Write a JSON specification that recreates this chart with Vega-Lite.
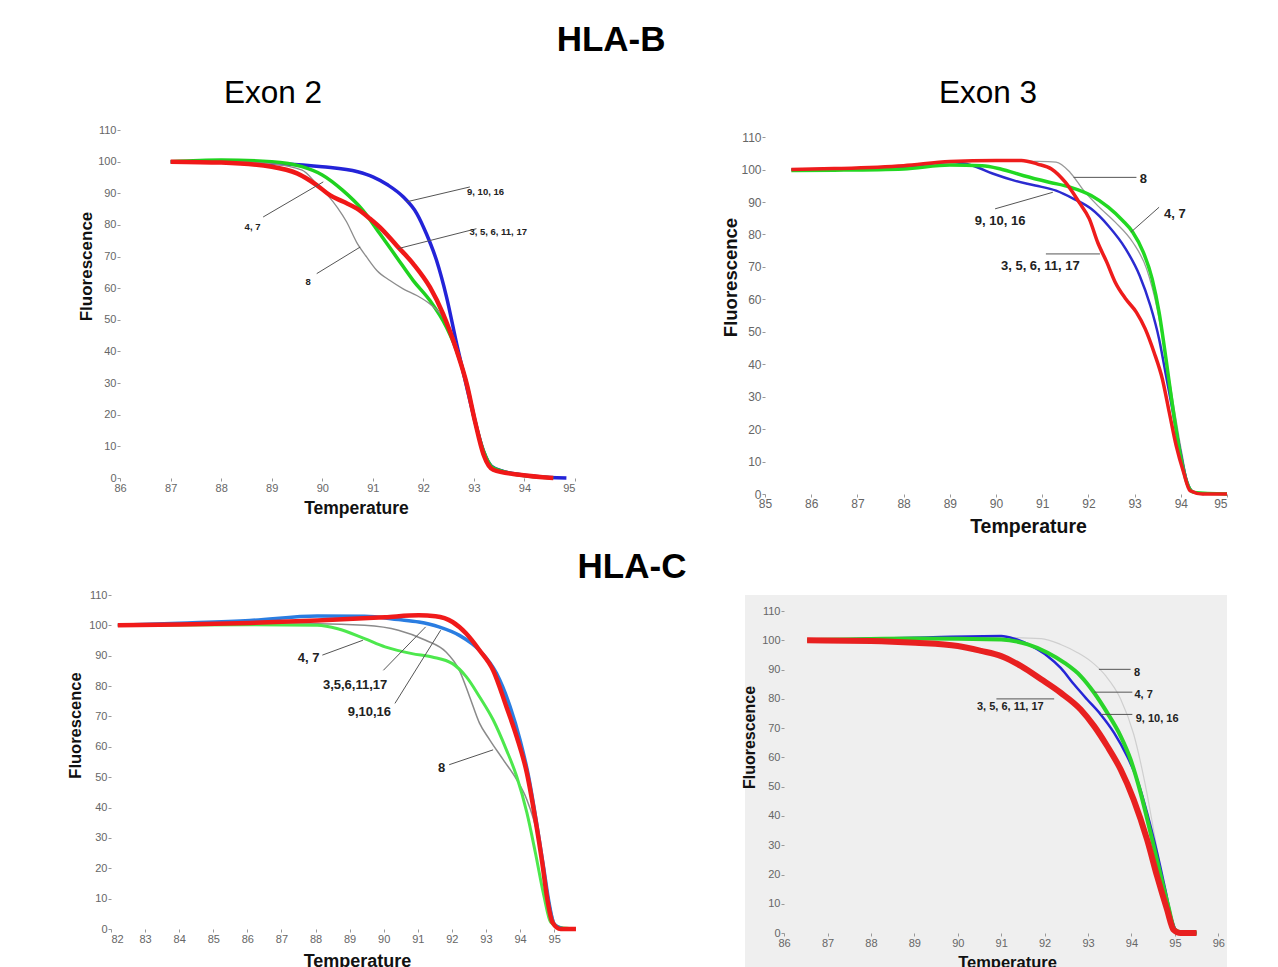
{
  "$schema": "https://vega.github.io/schema/vega-lite/v6.json",
  "background": "white",
  "padding": {"left": 67, "top": 22, "right": 0, "bottom": 0},
  "config": {
    "font": "Liberation Sans",
    "view": {"stroke": null},
    "axis": {
      "domain": false,
      "grid": false,
      "labelColor": "#666666",
      "labelFontSize": 11,
      "labelPadding": 1,
      "tickColor": "#999999",
      "tickSize": 3,
      "titleFontWeight": "bold",
      "titleColor": "#111111"
    },
    "title": {"color": "#000000", "font": "Liberation Sans"}
  },
  "title": {"text": "HLA-B", "fontSize": 35, "fontWeight": "bold", "anchor": "start", "frame": "bounds", "dx": 489, "offset": 20},
  "datasets": {
    "curves": [
      {"panel": "B2", "group": "9, 10, 16", "t": 87, "f": 100},
      {"panel": "B2", "group": "9, 10, 16", "t": 88, "f": 100},
      {"panel": "B2", "group": "9, 10, 16", "t": 89, "f": 99.5},
      {"panel": "B2", "group": "9, 10, 16", "t": 90, "f": 98.4},
      {"panel": "B2", "group": "9, 10, 16", "t": 90.7, "f": 96.8},
      {"panel": "B2", "group": "9, 10, 16", "t": 91, "f": 95.2},
      {"panel": "B2", "group": "9, 10, 16", "t": 91.3, "f": 92.6},
      {"panel": "B2", "group": "9, 10, 16", "t": 91.6, "f": 88.9},
      {"panel": "B2", "group": "9, 10, 16", "t": 91.87, "f": 83.6},
      {"panel": "B2", "group": "9, 10, 16", "t": 92.06, "f": 77.2},
      {"panel": "B2", "group": "9, 10, 16", "t": 92.26, "f": 68.8},
      {"panel": "B2", "group": "9, 10, 16", "t": 92.46, "f": 57.1},
      {"panel": "B2", "group": "9, 10, 16", "t": 92.66, "f": 42.3},
      {"panel": "B2", "group": "9, 10, 16", "t": 92.86, "f": 28.6},
      {"panel": "B2", "group": "9, 10, 16", "t": 93.02, "f": 18},
      {"panel": "B2", "group": "9, 10, 16", "t": 93.19, "f": 8.5},
      {"panel": "B2", "group": "9, 10, 16", "t": 93.35, "f": 3.7},
      {"panel": "B2", "group": "9, 10, 16", "t": 93.58, "f": 2.1},
      {"panel": "B2", "group": "9, 10, 16", "t": 94.24, "f": 0.5},
      {"panel": "B2", "group": "9, 10, 16", "t": 94.83, "f": 0},

      {"panel": "B2", "group": "4, 7", "t": 87, "f": 100},
      {"panel": "B2", "group": "4, 7", "t": 88, "f": 100.5},
      {"panel": "B2", "group": "4, 7", "t": 89, "f": 100},
      {"panel": "B2", "group": "4, 7", "t": 89.6, "f": 98.4},
      {"panel": "B2", "group": "4, 7", "t": 90, "f": 95.8},
      {"panel": "B2", "group": "4, 7", "t": 90.4, "f": 91},
      {"panel": "B2", "group": "4, 7", "t": 90.8, "f": 84.7},
      {"panel": "B2", "group": "4, 7", "t": 91.14, "f": 77.2},
      {"panel": "B2", "group": "4, 7", "t": 91.47, "f": 69.8},
      {"panel": "B2", "group": "4, 7", "t": 91.8, "f": 62.4},
      {"panel": "B2", "group": "4, 7", "t": 92.13, "f": 56.1},
      {"panel": "B2", "group": "4, 7", "t": 92.46, "f": 47.6},
      {"panel": "B2", "group": "4, 7", "t": 92.66, "f": 40.2},
      {"panel": "B2", "group": "4, 7", "t": 92.86, "f": 29.6},
      {"panel": "B2", "group": "4, 7", "t": 93.02, "f": 18},
      {"panel": "B2", "group": "4, 7", "t": 93.19, "f": 8.5},
      {"panel": "B2", "group": "4, 7", "t": 93.38, "f": 3.2},
      {"panel": "B2", "group": "4, 7", "t": 93.9, "f": 1},
      {"panel": "B2", "group": "4, 7", "t": 94.57, "f": 0},

      {"panel": "B2", "group": "3, 5, 6, 11, 17", "t": 87, "f": 100},
      {"panel": "B2", "group": "3, 5, 6, 11, 17", "t": 88, "f": 99.7},
      {"panel": "B2", "group": "3, 5, 6, 11, 17", "t": 89, "f": 98.4},
      {"panel": "B2", "group": "3, 5, 6, 11, 17", "t": 89.5, "f": 96.3},
      {"panel": "B2", "group": "3, 5, 6, 11, 17", "t": 89.89, "f": 92.6},
      {"panel": "B2", "group": "3, 5, 6, 11, 17", "t": 90.15, "f": 89.4},
      {"panel": "B2", "group": "3, 5, 6, 11, 17", "t": 90.42, "f": 87.3},
      {"panel": "B2", "group": "3, 5, 6, 11, 17", "t": 90.68, "f": 85.2},
      {"panel": "B2", "group": "3, 5, 6, 11, 17", "t": 90.94, "f": 82},
      {"panel": "B2", "group": "3, 5, 6, 11, 17", "t": 91.2, "f": 78.3},
      {"panel": "B2", "group": "3, 5, 6, 11, 17", "t": 91.47, "f": 73.5},
      {"panel": "B2", "group": "3, 5, 6, 11, 17", "t": 91.8, "f": 67.7},
      {"panel": "B2", "group": "3, 5, 6, 11, 17", "t": 92.13, "f": 60.3},
      {"panel": "B2", "group": "3, 5, 6, 11, 17", "t": 92.39, "f": 51.9},
      {"panel": "B2", "group": "3, 5, 6, 11, 17", "t": 92.66, "f": 40.2},
      {"panel": "B2", "group": "3, 5, 6, 11, 17", "t": 92.86, "f": 29.6},
      {"panel": "B2", "group": "3, 5, 6, 11, 17", "t": 93.02, "f": 18},
      {"panel": "B2", "group": "3, 5, 6, 11, 17", "t": 93.19, "f": 7.4},
      {"panel": "B2", "group": "3, 5, 6, 11, 17", "t": 93.38, "f": 2.6},
      {"panel": "B2", "group": "3, 5, 6, 11, 17", "t": 93.9, "f": 1},
      {"panel": "B2", "group": "3, 5, 6, 11, 17", "t": 94.57, "f": 0},

      {"panel": "B2", "group": "8", "t": 87, "f": 100},
      {"panel": "B2", "group": "8", "t": 88, "f": 100},
      {"panel": "B2", "group": "8", "t": 89, "f": 99.3},
      {"panel": "B2", "group": "8", "t": 89.6, "f": 97.3},
      {"panel": "B2", "group": "8", "t": 89.89, "f": 93},
      {"panel": "B2", "group": "8", "t": 90.1, "f": 89.5},
      {"panel": "B2", "group": "8", "t": 90.3, "f": 85.5},
      {"panel": "B2", "group": "8", "t": 90.48, "f": 81},
      {"panel": "B2", "group": "8", "t": 90.68, "f": 74.5},
      {"panel": "B2", "group": "8", "t": 90.88, "f": 69.8},
      {"panel": "B2", "group": "8", "t": 91.08, "f": 65.6},
      {"panel": "B2", "group": "8", "t": 91.34, "f": 62.4},
      {"panel": "B2", "group": "8", "t": 91.6, "f": 59.8},
      {"panel": "B2", "group": "8", "t": 91.87, "f": 57.7},
      {"panel": "B2", "group": "8", "t": 92.13, "f": 55},
      {"panel": "B2", "group": "8", "t": 92.39, "f": 50.8},
      {"panel": "B2", "group": "8", "t": 92.6, "f": 44.4},
      {"panel": "B2", "group": "8", "t": 92.8, "f": 33.9},
      {"panel": "B2", "group": "8", "t": 93, "f": 21.2},
      {"panel": "B2", "group": "8", "t": 93.19, "f": 8.5},
      {"panel": "B2", "group": "8", "t": 93.45, "f": 2.1},
      {"panel": "B2", "group": "8", "t": 94.24, "f": 0},

      {"panel": "B3", "group": "3, 5, 6, 11, 17", "t": 85.57, "f": 100},
      {"panel": "B3", "group": "3, 5, 6, 11, 17", "t": 86.5, "f": 100.3},
      {"panel": "B3", "group": "3, 5, 6, 11, 17", "t": 88, "f": 101.2},
      {"panel": "B3", "group": "3, 5, 6, 11, 17", "t": 89, "f": 102.5},
      {"panel": "B3", "group": "3, 5, 6, 11, 17", "t": 90, "f": 102.8},
      {"panel": "B3", "group": "3, 5, 6, 11, 17", "t": 90.55, "f": 102.8},
      {"panel": "B3", "group": "3, 5, 6, 11, 17", "t": 90.9, "f": 101.7},
      {"panel": "B3", "group": "3, 5, 6, 11, 17", "t": 91.2, "f": 100.2},
      {"panel": "B3", "group": "3, 5, 6, 11, 17", "t": 91.5, "f": 96.1},
      {"panel": "B3", "group": "3, 5, 6, 11, 17", "t": 91.8, "f": 89.9},
      {"panel": "B3", "group": "3, 5, 6, 11, 17", "t": 92.02, "f": 84.8},
      {"panel": "B3", "group": "3, 5, 6, 11, 17", "t": 92.2, "f": 77.6},
      {"panel": "B3", "group": "3, 5, 6, 11, 17", "t": 92.4, "f": 71.4},
      {"panel": "B3", "group": "3, 5, 6, 11, 17", "t": 92.58, "f": 65.3},
      {"panel": "B3", "group": "3, 5, 6, 11, 17", "t": 92.81, "f": 60.1},
      {"panel": "B3", "group": "3, 5, 6, 11, 17", "t": 93.04, "f": 56},
      {"panel": "B3", "group": "3, 5, 6, 11, 17", "t": 93.23, "f": 50.9},
      {"panel": "B3", "group": "3, 5, 6, 11, 17", "t": 93.42, "f": 43.7},
      {"panel": "B3", "group": "3, 5, 6, 11, 17", "t": 93.6, "f": 35.5},
      {"panel": "B3", "group": "3, 5, 6, 11, 17", "t": 93.75, "f": 25.2},
      {"panel": "B3", "group": "3, 5, 6, 11, 17", "t": 93.9, "f": 14.9},
      {"panel": "B3", "group": "3, 5, 6, 11, 17", "t": 94.06, "f": 6.7},
      {"panel": "B3", "group": "3, 5, 6, 11, 17", "t": 94.2, "f": 1},
      {"panel": "B3", "group": "3, 5, 6, 11, 17", "t": 94.47, "f": 0},
      {"panel": "B3", "group": "3, 5, 6, 11, 17", "t": 95, "f": 0},

      {"panel": "B3", "group": "4, 7", "t": 85.57, "f": 99.7},
      {"panel": "B3", "group": "4, 7", "t": 86.5, "f": 99.8},
      {"panel": "B3", "group": "4, 7", "t": 88, "f": 100.2},
      {"panel": "B3", "group": "4, 7", "t": 89, "f": 101.4},
      {"panel": "B3", "group": "4, 7", "t": 89.7, "f": 101.2},
      {"panel": "B3", "group": "4, 7", "t": 90.1, "f": 100.2},
      {"panel": "B3", "group": "4, 7", "t": 90.6, "f": 98.1},
      {"panel": "B3", "group": "4, 7", "t": 91.15, "f": 96.1},
      {"panel": "B3", "group": "4, 7", "t": 91.6, "f": 94.6},
      {"panel": "B3", "group": "4, 7", "t": 92.06, "f": 92},
      {"panel": "B3", "group": "4, 7", "t": 92.43, "f": 88.4},
      {"panel": "B3", "group": "4, 7", "t": 92.74, "f": 84.3},
      {"panel": "B3", "group": "4, 7", "t": 92.96, "f": 80.7},
      {"panel": "B3", "group": "4, 7", "t": 93.19, "f": 74.5},
      {"panel": "B3", "group": "4, 7", "t": 93.38, "f": 66.3},
      {"panel": "B3", "group": "4, 7", "t": 93.53, "f": 56},
      {"panel": "B3", "group": "4, 7", "t": 93.68, "f": 41.6},
      {"panel": "B3", "group": "4, 7", "t": 93.83, "f": 26.2},
      {"panel": "B3", "group": "4, 7", "t": 93.98, "f": 12.8},
      {"panel": "B3", "group": "4, 7", "t": 94.13, "f": 3.6},
      {"panel": "B3", "group": "4, 7", "t": 94.28, "f": 0.5},
      {"panel": "B3", "group": "4, 7", "t": 95, "f": 0},

      {"panel": "B3", "group": "9, 10, 16", "t": 85.57, "f": 100},
      {"panel": "B3", "group": "9, 10, 16", "t": 88, "f": 100.8},
      {"panel": "B3", "group": "9, 10, 16", "t": 89, "f": 102.3},
      {"panel": "B3", "group": "9, 10, 16", "t": 89.5, "f": 101.2},
      {"panel": "B3", "group": "9, 10, 16", "t": 89.94, "f": 98.7},
      {"panel": "B3", "group": "9, 10, 16", "t": 90.4, "f": 96.6},
      {"panel": "B3", "group": "9, 10, 16", "t": 90.85, "f": 95.1},
      {"panel": "B3", "group": "9, 10, 16", "t": 91.3, "f": 93.5},
      {"panel": "B3", "group": "9, 10, 16", "t": 91.68, "f": 91},
      {"panel": "B3", "group": "9, 10, 16", "t": 92.06, "f": 87.9},
      {"panel": "B3", "group": "9, 10, 16", "t": 92.43, "f": 82.7},
      {"panel": "B3", "group": "9, 10, 16", "t": 92.81, "f": 75.5},
      {"panel": "B3", "group": "9, 10, 16", "t": 93.11, "f": 67.3},
      {"panel": "B3", "group": "9, 10, 16", "t": 93.34, "f": 58.1},
      {"panel": "B3", "group": "9, 10, 16", "t": 93.53, "f": 47.8},
      {"panel": "B3", "group": "9, 10, 16", "t": 93.68, "f": 36.5},
      {"panel": "B3", "group": "9, 10, 16", "t": 93.83, "f": 25.2},
      {"panel": "B3", "group": "9, 10, 16", "t": 93.98, "f": 13.9},
      {"panel": "B3", "group": "9, 10, 16", "t": 94.13, "f": 4.1},
      {"panel": "B3", "group": "9, 10, 16", "t": 94.28, "f": 0.5},
      {"panel": "B3", "group": "9, 10, 16", "t": 94.5, "f": 0},

      {"panel": "B3", "group": "8", "t": 85.57, "f": 100},
      {"panel": "B3", "group": "8", "t": 88, "f": 101},
      {"panel": "B3", "group": "8", "t": 89, "f": 102.3},
      {"panel": "B3", "group": "8", "t": 90, "f": 102.6},
      {"panel": "B3", "group": "8", "t": 90.9, "f": 102.5},
      {"panel": "B3", "group": "8", "t": 91.3, "f": 102.3},
      {"panel": "B3", "group": "8", "t": 91.6, "f": 99.2},
      {"panel": "B3", "group": "8", "t": 91.9, "f": 93.5},
      {"panel": "B3", "group": "8", "t": 92.2, "f": 88.9},
      {"panel": "B3", "group": "8", "t": 92.58, "f": 83.8},
      {"panel": "B3", "group": "8", "t": 92.96, "f": 77.6},
      {"panel": "B3", "group": "8", "t": 93.26, "f": 69.4},
      {"panel": "B3", "group": "8", "t": 93.49, "f": 57},
      {"panel": "B3", "group": "8", "t": 93.68, "f": 41.6},
      {"panel": "B3", "group": "8", "t": 93.87, "f": 25.2},
      {"panel": "B3", "group": "8", "t": 94.02, "f": 12.8},
      {"panel": "B3", "group": "8", "t": 94.2, "f": 1.5},
      {"panel": "B3", "group": "8", "t": 94.5, "f": 0},

      {"panel": "C1", "group": "3, 5, 6, 11, 17", "t": 82.2, "f": 100},
      {"panel": "C1", "group": "3, 5, 6, 11, 17", "t": 84, "f": 100.3},
      {"panel": "C1", "group": "3, 5, 6, 11, 17", "t": 86.07, "f": 100.8},
      {"panel": "C1", "group": "3, 5, 6, 11, 17", "t": 88.05, "f": 101.6},
      {"panel": "C1", "group": "3, 5, 6, 11, 17", "t": 90.04, "f": 102.7},
      {"panel": "C1", "group": "3, 5, 6, 11, 17", "t": 91.03, "f": 103.3},
      {"panel": "C1", "group": "3, 5, 6, 11, 17", "t": 91.52, "f": 103},
      {"panel": "C1", "group": "3, 5, 6, 11, 17", "t": 92.02, "f": 101.1},
      {"panel": "C1", "group": "3, 5, 6, 11, 17", "t": 92.42, "f": 97.3},
      {"panel": "C1", "group": "3, 5, 6, 11, 17", "t": 92.81, "f": 91.8},
      {"panel": "C1", "group": "3, 5, 6, 11, 17", "t": 93.21, "f": 85.2},
      {"panel": "C1", "group": "3, 5, 6, 11, 17", "t": 93.6, "f": 73.2},
      {"panel": "C1", "group": "3, 5, 6, 11, 17", "t": 93.9, "f": 63.4},
      {"panel": "C1", "group": "3, 5, 6, 11, 17", "t": 94.2, "f": 51.4},
      {"panel": "C1", "group": "3, 5, 6, 11, 17", "t": 94.45, "f": 36.1},
      {"panel": "C1", "group": "3, 5, 6, 11, 17", "t": 94.65, "f": 21.9},
      {"panel": "C1", "group": "3, 5, 6, 11, 17", "t": 94.8, "f": 9.8},
      {"panel": "C1", "group": "3, 5, 6, 11, 17", "t": 94.95, "f": 2.2},
      {"panel": "C1", "group": "3, 5, 6, 11, 17", "t": 95.19, "f": 0},
      {"panel": "C1", "group": "3, 5, 6, 11, 17", "t": 95.64, "f": 0},

      {"panel": "C1", "group": "9, 10, 16", "t": 82.2, "f": 100},
      {"panel": "C1", "group": "9, 10, 16", "t": 84, "f": 100.7},
      {"panel": "C1", "group": "9, 10, 16", "t": 86.07, "f": 101.6},
      {"panel": "C1", "group": "9, 10, 16", "t": 88.05, "f": 103.1},
      {"panel": "C1", "group": "9, 10, 16", "t": 89.44, "f": 103},
      {"panel": "C1", "group": "9, 10, 16", "t": 90.43, "f": 101.9},
      {"panel": "C1", "group": "9, 10, 16", "t": 91.03, "f": 101.1},
      {"panel": "C1", "group": "9, 10, 16", "t": 91.62, "f": 99.5},
      {"panel": "C1", "group": "9, 10, 16", "t": 92.22, "f": 96.7},
      {"panel": "C1", "group": "9, 10, 16", "t": 92.81, "f": 91.8},
      {"panel": "C1", "group": "9, 10, 16", "t": 93.31, "f": 84.2},
      {"panel": "C1", "group": "9, 10, 16", "t": 93.71, "f": 73.2},
      {"panel": "C1", "group": "9, 10, 16", "t": 94, "f": 62.3},
      {"panel": "C1", "group": "9, 10, 16", "t": 94.25, "f": 50.3},
      {"panel": "C1", "group": "9, 10, 16", "t": 94.5, "f": 33.9},
      {"panel": "C1", "group": "9, 10, 16", "t": 94.7, "f": 19.7},
      {"panel": "C1", "group": "9, 10, 16", "t": 94.85, "f": 8.7},
      {"panel": "C1", "group": "9, 10, 16", "t": 95, "f": 1.6},
      {"panel": "C1", "group": "9, 10, 16", "t": 95.3, "f": 0},
      {"panel": "C1", "group": "9, 10, 16", "t": 95.6, "f": 0},

      {"panel": "C1", "group": "4, 7", "t": 82.2, "f": 100},
      {"panel": "C1", "group": "4, 7", "t": 86.07, "f": 100.2},
      {"panel": "C1", "group": "4, 7", "t": 88.05, "f": 100},
      {"panel": "C1", "group": "4, 7", "t": 88.65, "f": 98.9},
      {"panel": "C1", "group": "4, 7", "t": 89.44, "f": 95.6},
      {"panel": "C1", "group": "4, 7", "t": 90.04, "f": 92.9},
      {"panel": "C1", "group": "4, 7", "t": 90.83, "f": 90.7},
      {"panel": "C1", "group": "4, 7", "t": 91.42, "f": 89.6},
      {"panel": "C1", "group": "4, 7", "t": 92.02, "f": 87.4},
      {"panel": "C1", "group": "4, 7", "t": 92.42, "f": 83.1},
      {"panel": "C1", "group": "4, 7", "t": 92.81, "f": 76.5},
      {"panel": "C1", "group": "4, 7", "t": 93.21, "f": 68.9},
      {"panel": "C1", "group": "4, 7", "t": 93.6, "f": 59},
      {"panel": "C1", "group": "4, 7", "t": 93.9, "f": 50.3},
      {"panel": "C1", "group": "4, 7", "t": 94.2, "f": 38.3},
      {"panel": "C1", "group": "4, 7", "t": 94.45, "f": 25.1},
      {"panel": "C1", "group": "4, 7", "t": 94.7, "f": 10.9},
      {"panel": "C1", "group": "4, 7", "t": 94.9, "f": 2.2},
      {"panel": "C1", "group": "4, 7", "t": 95.19, "f": 0.5},
      {"panel": "C1", "group": "4, 7", "t": 95.64, "f": 0},

      {"panel": "C1", "group": "8", "t": 82.2, "f": 100},
      {"panel": "C1", "group": "8", "t": 86, "f": 100.3},
      {"panel": "C1", "group": "8", "t": 88.05, "f": 100.5},
      {"panel": "C1", "group": "8", "t": 89.44, "f": 100},
      {"panel": "C1", "group": "8", "t": 90.43, "f": 98.4},
      {"panel": "C1", "group": "8", "t": 91.23, "f": 95.1},
      {"panel": "C1", "group": "8", "t": 91.82, "f": 91.3},
      {"panel": "C1", "group": "8", "t": 92.22, "f": 85.2},
      {"panel": "C1", "group": "8", "t": 92.52, "f": 76.5},
      {"panel": "C1", "group": "8", "t": 92.81, "f": 67.8},
      {"panel": "C1", "group": "8", "t": 93.11, "f": 62.3},
      {"panel": "C1", "group": "8", "t": 93.51, "f": 55.7},
      {"panel": "C1", "group": "8", "t": 93.9, "f": 49.2},
      {"panel": "C1", "group": "8", "t": 94.2, "f": 42.6},
      {"panel": "C1", "group": "8", "t": 94.5, "f": 31.7},
      {"panel": "C1", "group": "8", "t": 94.7, "f": 19.7},
      {"panel": "C1", "group": "8", "t": 94.9, "f": 6.6},
      {"panel": "C1", "group": "8", "t": 95.1, "f": 0.5},
      {"panel": "C1", "group": "8", "t": 95.4, "f": 0},

      {"panel": "C2", "group": "3, 5, 6, 11, 17", "t": 86.53, "f": 100},
      {"panel": "C2", "group": "3, 5, 6, 11, 17", "t": 88, "f": 99.8},
      {"panel": "C2", "group": "3, 5, 6, 11, 17", "t": 89.02, "f": 99.2},
      {"panel": "C2", "group": "3, 5, 6, 11, 17", "t": 90, "f": 98.1},
      {"panel": "C2", "group": "3, 5, 6, 11, 17", "t": 90.54, "f": 96.4},
      {"panel": "C2", "group": "3, 5, 6, 11, 17", "t": 91, "f": 94.6},
      {"panel": "C2", "group": "3, 5, 6, 11, 17", "t": 91.46, "f": 91.2},
      {"panel": "C2", "group": "3, 5, 6, 11, 17", "t": 91.92, "f": 86.7},
      {"panel": "C2", "group": "3, 5, 6, 11, 17", "t": 92.37, "f": 82.1},
      {"panel": "C2", "group": "3, 5, 6, 11, 17", "t": 92.83, "f": 76.4},
      {"panel": "C2", "group": "3, 5, 6, 11, 17", "t": 93.14, "f": 70.7},
      {"panel": "C2", "group": "3, 5, 6, 11, 17", "t": 93.44, "f": 63.9},
      {"panel": "C2", "group": "3, 5, 6, 11, 17", "t": 93.75, "f": 55.9},
      {"panel": "C2", "group": "3, 5, 6, 11, 17", "t": 94.05, "f": 45.6},
      {"panel": "C2", "group": "3, 5, 6, 11, 17", "t": 94.36, "f": 31.9},
      {"panel": "C2", "group": "3, 5, 6, 11, 17", "t": 94.59, "f": 19.4},
      {"panel": "C2", "group": "3, 5, 6, 11, 17", "t": 94.82, "f": 8},
      {"panel": "C2", "group": "3, 5, 6, 11, 17", "t": 94.97, "f": 1.1},
      {"panel": "C2", "group": "3, 5, 6, 11, 17", "t": 95.13, "f": 0},
      {"panel": "C2", "group": "3, 5, 6, 11, 17", "t": 95.5, "f": 0},

      {"panel": "C2", "group": "9, 10, 16", "t": 86.53, "f": 100},
      {"panel": "C2", "group": "9, 10, 16", "t": 89.02, "f": 100.9},
      {"panel": "C2", "group": "9, 10, 16", "t": 91, "f": 101.5},
      {"panel": "C2", "group": "9, 10, 16", "t": 91.3, "f": 100.6},
      {"panel": "C2", "group": "9, 10, 16", "t": 91.69, "f": 98.1},
      {"panel": "C2", "group": "9, 10, 16", "t": 92.07, "f": 94.6},
      {"panel": "C2", "group": "9, 10, 16", "t": 92.37, "f": 90.6},
      {"panel": "C2", "group": "9, 10, 16", "t": 92.68, "f": 84.9},
      {"panel": "C2", "group": "9, 10, 16", "t": 92.98, "f": 79.8},
      {"panel": "C2", "group": "9, 10, 16", "t": 93.29, "f": 74.7},
      {"panel": "C2", "group": "9, 10, 16", "t": 93.6, "f": 68.4},
      {"panel": "C2", "group": "9, 10, 16", "t": 93.9, "f": 60.4},
      {"panel": "C2", "group": "9, 10, 16", "t": 94.13, "f": 52.5},
      {"panel": "C2", "group": "9, 10, 16", "t": 94.36, "f": 41},
      {"panel": "C2", "group": "9, 10, 16", "t": 94.59, "f": 27.4},
      {"panel": "C2", "group": "9, 10, 16", "t": 94.78, "f": 14.8},
      {"panel": "C2", "group": "9, 10, 16", "t": 94.93, "f": 4.6},
      {"panel": "C2", "group": "9, 10, 16", "t": 95.05, "f": 0.6},
      {"panel": "C2", "group": "9, 10, 16", "t": 95.5, "f": 0},

      {"panel": "C2", "group": "4, 7", "t": 86.53, "f": 100},
      {"panel": "C2", "group": "4, 7", "t": 89.02, "f": 100.6},
      {"panel": "C2", "group": "4, 7", "t": 91, "f": 100.3},
      {"panel": "C2", "group": "4, 7", "t": 91.61, "f": 98.6},
      {"panel": "C2", "group": "4, 7", "t": 92.07, "f": 95.8},
      {"panel": "C2", "group": "4, 7", "t": 92.45, "f": 92.4},
      {"panel": "C2", "group": "4, 7", "t": 92.83, "f": 87.8},
      {"panel": "C2", "group": "4, 7", "t": 93.14, "f": 82.1},
      {"panel": "C2", "group": "4, 7", "t": 93.44, "f": 75.3},
      {"panel": "C2", "group": "4, 7", "t": 93.75, "f": 67.3},
      {"panel": "C2", "group": "4, 7", "t": 93.98, "f": 59.3},
      {"panel": "C2", "group": "4, 7", "t": 94.21, "f": 47.9},
      {"panel": "C2", "group": "4, 7", "t": 94.44, "f": 34.2},
      {"panel": "C2", "group": "4, 7", "t": 94.66, "f": 20.5},
      {"panel": "C2", "group": "4, 7", "t": 94.85, "f": 9.1},
      {"panel": "C2", "group": "4, 7", "t": 95, "f": 1.1},
      {"panel": "C2", "group": "4, 7", "t": 95.2, "f": 0},
      {"panel": "C2", "group": "4, 7", "t": 95.5, "f": 0},

      {"panel": "C2", "group": "8", "t": 86.53, "f": 100},
      {"panel": "C2", "group": "8", "t": 89, "f": 100.5},
      {"panel": "C2", "group": "8", "t": 91, "f": 101},
      {"panel": "C2", "group": "8", "t": 91.92, "f": 100.6},
      {"panel": "C2", "group": "8", "t": 92.37, "f": 98.6},
      {"panel": "C2", "group": "8", "t": 92.76, "f": 95.8},
      {"panel": "C2", "group": "8", "t": 93.06, "f": 92.9},
      {"panel": "C2", "group": "8", "t": 93.4, "f": 88},
      {"panel": "C2", "group": "8", "t": 93.75, "f": 80},
      {"panel": "C2", "group": "8", "t": 94.05, "f": 68},
      {"panel": "C2", "group": "8", "t": 94.3, "f": 52},
      {"panel": "C2", "group": "8", "t": 94.55, "f": 32},
      {"panel": "C2", "group": "8", "t": 94.8, "f": 12},
      {"panel": "C2", "group": "8", "t": 95, "f": 1},
      {"panel": "C2", "group": "8", "t": 95.5, "f": 0}
    ],
    "notes": [
      {"panel": "B2", "kind": "leader", "group": "9, 10, 16", "t": 91.67, "f": 87.3, "t2": 92.92, "f2": 92},
      {"panel": "B2", "kind": "leader", "group": "3, 5, 6, 11, 17", "t": 91.5, "f": 72.5, "t2": 93.05, "f2": 78.8},
      {"panel": "B2", "kind": "leader", "group": "4, 7", "t": 88.83, "f": 82.5, "t2": 90.02, "f2": 93.6},
      {"panel": "B2", "kind": "leader", "group": "8", "t": 89.89, "f": 64.6, "t2": 90.75, "f2": 73},
      {"panel": "B2", "kind": "label", "group": "9, 10, 16", "t": 93.23, "f": 90.5},
      {"panel": "B2", "kind": "label", "group": "3, 5, 6, 11, 17", "t": 93.48, "f": 77.8},
      {"panel": "B2", "kind": "label", "group": "4, 7", "t": 88.62, "f": 79.4},
      {"panel": "B2", "kind": "label", "group": "8", "t": 89.72, "f": 61.9},

      {"panel": "B3", "kind": "leader", "group": "8", "t": 91.68, "f": 97.6, "t2": 93.04, "f2": 97.6},
      {"panel": "B3", "kind": "leader", "group": "9, 10, 16", "t": 89.98, "f": 87.9, "t2": 91.23, "f2": 93},
      {"panel": "B3", "kind": "leader", "group": "4, 7", "t": 93.53, "f": 88.4, "t2": 92.92, "f2": 80.7},
      {"panel": "B3", "kind": "leader", "group": "3, 5, 6, 11, 17", "t": 91.08, "f": 74, "t2": 92.25, "f2": 74},
      {"panel": "B3", "kind": "label", "group": "8", "t": 93.19, "f": 97.1},
      {"panel": "B3", "kind": "label", "group": "9, 10, 16", "t": 90.09, "f": 84.3},
      {"panel": "B3", "kind": "label", "group": "4, 7", "t": 93.87, "f": 86.3},
      {"panel": "B3", "kind": "label", "group": "3, 5, 6, 11, 17", "t": 90.96, "f": 70.4},

      {"panel": "C1", "kind": "leader", "group": "4, 7", "t": 88.2, "f": 90.2, "t2": 89.39, "f2": 95.1},
      {"panel": "C1", "kind": "leader", "group": "3,5,6,11,17", "t": 89.99, "f": 85.2, "t2": 91.23, "f2": 99.5},
      {"panel": "C1", "kind": "leader", "group": "9,10,16", "t": 90.33, "f": 74.3, "t2": 91.67, "f2": 98.4},
      {"panel": "C1", "kind": "leader", "group": "8", "t": 91.92, "f": 54.1, "t2": 93.21, "f2": 59},
      {"panel": "C1", "kind": "label", "group": "4, 7", "t": 87.8, "f": 89.1},
      {"panel": "C1", "kind": "label", "group": "3,5,6,11,17", "t": 89.16, "f": 80.3},
      {"panel": "C1", "kind": "label", "group": "9,10,16", "t": 89.58, "f": 71.6},
      {"panel": "C1", "kind": "label", "group": "8", "t": 91.7, "f": 53},

      {"panel": "C2", "kind": "leader", "group": "8", "t": 93.25, "f": 90.1, "t2": 93.98, "f2": 90.1},
      {"panel": "C2", "kind": "leader", "group": "4, 7", "t": 93.14, "f": 82.3, "t2": 94.02, "f2": 82.3},
      {"panel": "C2", "kind": "leader", "group": "9, 10, 16", "t": 93.29, "f": 74.7, "t2": 94.02, "f2": 74.7},
      {"panel": "C2", "kind": "leader", "group": "3, 5, 6, 11, 17", "t": 90.89, "f": 80, "t2": 92.22, "f2": 80},
      {"panel": "C2", "kind": "label", "group": "8", "t": 94.13, "f": 88.7},
      {"panel": "C2", "kind": "label", "group": "4, 7", "t": 94.28, "f": 81.5},
      {"panel": "C2", "kind": "label", "group": "9, 10, 16", "t": 94.59, "f": 73.3},
      {"panel": "C2", "kind": "label", "group": "3, 5, 6, 11, 17", "t": 91.21, "f": 77.3}
    ]
  },
  "columns": 2,
  "align": "each",
  "bounds": "flush",
  "spacing": {"row": 101, "column": 167},
  "concat": [
    {
      "width": 464,
      "height": 348,
      "title": {"text": "Exon 2", "fontSize": 31.5, "fontWeight": "normal", "anchor": "middle", "frame": "group", "dx": -70, "offset": 15},
      "encoding": {
        "x": {"field": "t", "type": "quantitative", "scale": {"domain": [85.82, 95], "nice": false, "zero": false},
              "axis": {"values": [86, 87, 88, 89, 90, 91, 92, 93, 94, 95], "title": "Temperature", "titleFontSize": 17.5, "titlePadding": 6, "titleX": 245}},
        "y": {"field": "f", "type": "quantitative", "scale": {"domain": [0, 110], "nice": false},
              "axis": {"values": [0, 10, 20, 30, 40, 50, 60, 70, 80, 90, 100, 110], "title": "Fluorescence", "titleFontSize": 17, "titlePadding": 2, "offset": -9, "titleY": 136}}
      },
      "layer": [
        {"data": {"name": "curves"}, "transform": [{"filter": "datum.panel === 'B2' && datum.group === '9, 10, 16'"}],
         "mark": {"type": "line", "interpolate": "monotone", "color": "#2323d8", "strokeWidth": 3.5}},
        {"data": {"name": "curves"}, "transform": [{"filter": "datum.panel === 'B2' && datum.group === '4, 7'"}],
         "mark": {"type": "line", "interpolate": "monotone", "color": "#1fd21f", "strokeWidth": 3.5}},
        {"data": {"name": "curves"}, "transform": [{"filter": "datum.panel === 'B2' && datum.group === '8'"}],
         "mark": {"type": "line", "interpolate": "monotone", "color": "#8c8c8c", "strokeWidth": 1.3}},
        {"data": {"name": "curves"}, "transform": [{"filter": "datum.panel === 'B2' && datum.group === '3, 5, 6, 11, 17'"}],
         "mark": {"type": "line", "interpolate": "monotone", "color": "#f01818", "strokeWidth": 4.5}},
        {"data": {"name": "notes"}, "transform": [{"filter": "datum.panel === 'B2' && datum.kind === 'leader'"}],
         "mark": {"type": "rule", "color": "#555555", "strokeWidth": 1},
         "encoding": {"x2": {"field": "t2"}, "y2": {"field": "f2"}}},
        {"data": {"name": "notes"}, "transform": [{"filter": "datum.panel === 'B2' && datum.kind === 'label'"}],
         "mark": {"type": "text", "fontSize": 9.5, "fontWeight": "bold", "color": "#222222", "align": "center", "baseline": "middle"},
         "encoding": {"text": {"field": "group"}}}
      ]
    },
    {
      "width": 482,
      "height": 364,
      "title": {"text": "Exon 3", "fontSize": 31.5, "fontWeight": "normal", "anchor": "middle", "frame": "group", "dx": 2, "offset": 21},
      "encoding": {
        "x": {"field": "t", "type": "quantitative", "scale": {"domain": [84.567, 95], "nice": false, "zero": false},
              "axis": {"values": [85, 86, 87, 88, 89, 90, 91, 92, 93, 94, 95], "title": "Temperature", "titleFontSize": 19.5, "titlePadding": 8, "labelFontSize": 12, "titleX": 283}},
        "y": {"field": "f", "type": "quantitative", "scale": {"domain": [0, 112.2], "nice": false},
              "axis": {"values": [0, 10, 20, 30, 40, 50, 60, 70, 80, 90, 100, 110], "title": "Fluorescence", "titleFontSize": 18.5, "titlePadding": 0, "labelFontSize": 12, "offset": -20, "titleY": 147}}
      },
      "layer": [
        {"data": {"name": "curves"}, "transform": [{"filter": "datum.panel === 'B3' && datum.group === '8'"}],
         "mark": {"type": "line", "interpolate": "monotone", "color": "#999999", "strokeWidth": 1.3}},
        {"data": {"name": "curves"}, "transform": [{"filter": "datum.panel === 'B3' && datum.group === '9, 10, 16'"}],
         "mark": {"type": "line", "interpolate": "monotone", "color": "#2b2bd0", "strokeWidth": 2.5}},
        {"data": {"name": "curves"}, "transform": [{"filter": "datum.panel === 'B3' && datum.group === '4, 7'"}],
         "mark": {"type": "line", "interpolate": "monotone", "color": "#22d822", "strokeWidth": 3.5}},
        {"data": {"name": "curves"}, "transform": [{"filter": "datum.panel === 'B3' && datum.group === '3, 5, 6, 11, 17'"}],
         "mark": {"type": "line", "interpolate": "monotone", "color": "#ee1c1c", "strokeWidth": 3.5}},
        {"data": {"name": "notes"}, "transform": [{"filter": "datum.panel === 'B3' && datum.kind === 'leader'"}],
         "mark": {"type": "rule", "color": "#555555", "strokeWidth": 1},
         "encoding": {"x2": {"field": "t2"}, "y2": {"field": "f2"}}},
        {"data": {"name": "notes"}, "transform": [{"filter": "datum.panel === 'B3' && datum.kind === 'label'"}],
         "mark": {"type": "text", "fontSize": 13, "fontWeight": "bold", "color": "#222222", "align": "center", "baseline": "middle"},
         "encoding": {"text": {"field": "group"}}}
      ]
    },
    {
      "width": 467,
      "height": 334,
      "title": {"text": "HLA-C", "fontSize": 35, "fontWeight": "bold", "anchor": "middle", "frame": "group", "dx": 287.5, "offset": 4},
      "encoding": {
        "x": {"field": "t", "type": "quantitative", "scale": {"domain": [82, 95.7], "nice": false, "zero": false},
              "axis": {"values": [82, 83, 84, 85, 86, 87, 88, 89, 90, 91, 92, 93, 94, 95], "title": "Temperature", "titleFontSize": 18, "titlePadding": 8, "titleX": 246}},
        "y": {"field": "f", "type": "quantitative", "scale": {"domain": [0, 110], "nice": false},
              "axis": {"values": [0, 10, 20, 30, 40, 50, 60, 70, 80, 90, 100, 110], "title": "Fluorescence", "titleFontSize": 16.5, "titlePadding": 5, "titleY": 130}}
      },
      "layer": [
        {"data": {"name": "curves"}, "transform": [{"filter": "datum.panel === 'C1' && datum.group === '8'"}],
         "mark": {"type": "line", "interpolate": "monotone", "color": "#8a8a8a", "strokeWidth": 1.5}},
        {"data": {"name": "curves"}, "transform": [{"filter": "datum.panel === 'C1' && datum.group === '4, 7'"}],
         "mark": {"type": "line", "interpolate": "monotone", "color": "#4de84d", "strokeWidth": 3}},
        {"data": {"name": "curves"}, "transform": [{"filter": "datum.panel === 'C1' && datum.group === '9, 10, 16'"}],
         "mark": {"type": "line", "interpolate": "monotone", "color": "#2a7de1", "strokeWidth": 3.5}},
        {"data": {"name": "curves"}, "transform": [{"filter": "datum.panel === 'C1' && datum.group === '3, 5, 6, 11, 17'"}],
         "mark": {"type": "line", "interpolate": "monotone", "color": "#f01a1a", "strokeWidth": 4.5}},
        {"data": {"name": "notes"}, "transform": [{"filter": "datum.panel === 'C1' && datum.kind === 'leader'"}],
         "mark": {"type": "rule", "color": "#555555", "strokeWidth": 1},
         "encoding": {"x2": {"field": "t2"}, "y2": {"field": "f2"}}},
        {"data": {"name": "notes"}, "transform": [{"filter": "datum.panel === 'C1' && datum.kind === 'label'"}],
         "mark": {"type": "text", "fontSize": 13, "fontWeight": "bold", "color": "#222222", "align": "center", "baseline": "middle"},
         "encoding": {"text": {"field": "group"}}}
      ]
    },
    {
      "width": 482,
      "height": 372,
      "view": {"fill": "#efefef", "stroke": null},
      "encoding": {
        "x": {"field": "t", "type": "quantitative", "scale": {"domain": [85.1, 96.2], "nice": false, "zero": false},
              "axis": {"values": [86, 87, 88, 89, 90, 91, 92, 93, 94, 95, 96], "title": "Temperature", "titleFontSize": 16.5, "titlePadding": 6, "offset": -34, "titleX": 262}},
        "y": {"field": "f", "type": "quantitative", "scale": {"domain": [-11.6, 115.5], "nice": false, "zero": false},
              "axis": {"values": [0, 10, 20, 30, 40, 50, 60, 70, 80, 90, 100, 110], "title": "Fluorescence", "titleFontSize": 16, "titlePadding": 4, "offset": -39, "titleY": 142}}
      },
      "layer": [
        {"data": {"name": "curves"}, "transform": [{"filter": "datum.panel === 'C2' && datum.group === '8'"}],
         "mark": {"type": "line", "interpolate": "monotone", "color": "#cfcfcf", "strokeWidth": 1.2}},
        {"data": {"name": "curves"}, "transform": [{"filter": "datum.panel === 'C2' && datum.group === '9, 10, 16'"}],
         "mark": {"type": "line", "interpolate": "monotone", "color": "#2525d6", "strokeWidth": 2.5}},
        {"data": {"name": "curves"}, "transform": [{"filter": "datum.panel === 'C2' && datum.group === '4, 7'"}],
         "mark": {"type": "line", "interpolate": "monotone", "color": "#2ad42a", "strokeWidth": 4}},
        {"data": {"name": "curves"}, "transform": [{"filter": "datum.panel === 'C2' && datum.group === '3, 5, 6, 11, 17'"}],
         "mark": {"type": "line", "interpolate": "monotone", "color": "#e82020", "strokeWidth": 6}},
        {"data": {"name": "notes"}, "transform": [{"filter": "datum.panel === 'C2' && datum.kind === 'leader'"}],
         "mark": {"type": "rule", "color": "#555555", "strokeWidth": 1},
         "encoding": {"x2": {"field": "t2"}, "y2": {"field": "f2"}}},
        {"data": {"name": "notes"}, "transform": [{"filter": "datum.panel === 'C2' && datum.kind === 'label'"}],
         "mark": {"type": "text", "fontSize": 11, "fontWeight": "bold", "color": "#222222", "align": "center", "baseline": "middle"},
         "encoding": {"text": {"field": "group"}}}
      ]
    }
  ]
}
